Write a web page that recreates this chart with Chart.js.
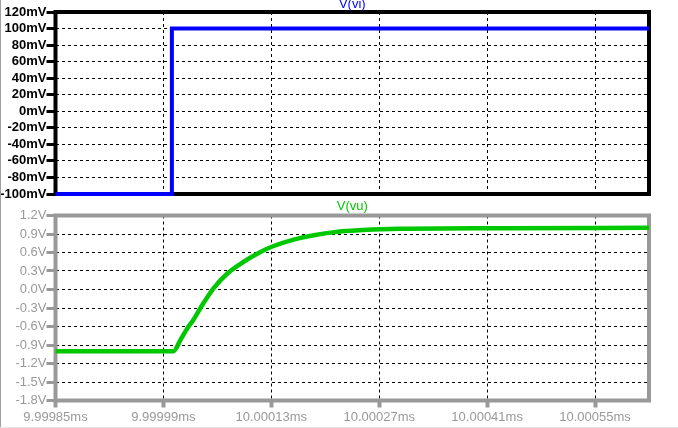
<!DOCTYPE html>
<html><head><meta charset="utf-8">
<script src="https://cdn.jsdelivr.net/npm/chart.js@4"></script>
<style>
html,body{margin:0;padding:0;background:#fff;}
body{width:678px;height:428px;position:relative;overflow:hidden;}
canvas{position:absolute;left:0;}
#c1{top:0;}
#c2{top:200px;}
#edgeL{position:absolute;left:0;top:0;width:1px;height:427px;background:#a0a0a0;}
#edgeB{position:absolute;left:0;top:427px;width:678px;height:1px;background:#e6e6e6;}
</style></head>
<body>
<canvas id="c1" width="678" height="210"></canvas>
<canvas id="c2" width="678" height="228"></canvas>
<div id="edgeL"></div><div id="edgeB"></div>
<script>
// Time axis: nanoseconds relative to 10 ms
const xMin = -150, xMax = 620;
const xTickValues = [-150, -10, 130, 270, 410, 550];
const xTickLabels = ['9.99985ms','9.99999ms','10.00013ms','10.00027ms','10.00041ms','10.00055ms'];

// V(vi) in mV
const viTickValues = [-100,-80,-60,-40,-20,0,20,40,60,80,100,120];
const viTickLabels = ['-100mV','-80mV','-60mV','-40mV','-20mV','0mV','20mV','40mV','60mV','80mV','100mV','120mV'];
const viTime = [-150, 1, 1, 620];
const viValues = [-100, -100, 100, 100];

// V(vu) in V
const vuTickValues = [-1.8,-1.5,-1.2,-0.9,-0.6,-0.3,0,0.3,0.6,0.9,1.2];
const vuTickLabels = ['-1.8V','-1.5V','-1.2V','-0.9V','-0.6V','-0.3V','0.0V','0.3V','0.6V','0.9V','1.2V'];
const vuTime = [-150, 3, 12, 21, 29, 42, 55, 73, 94, 116, 133, 159, 185, 219, 254, 297, 427, 620];
const vuValues = [-1.0, -1.0, -0.82, -0.63, -0.49, -0.22, 0.02, 0.26, 0.45, 0.61, 0.705, 0.81, 0.88, 0.94, 0.97, 0.985, 0.995, 1.0];

const FONT = '"Liberation Sans", Arial, sans-serif';

const framePlugin = {
  id: 'frame',
  beforeDatasetsDraw(chart, args, opts) {
    const {ctx, chartArea: a} = chart;
    ctx.save();
    ctx.strokeStyle = opts.color;
    ctx.lineWidth = opts.width;
    ctx.strokeRect(a.left, a.top, a.right - a.left, a.bottom - a.top);
    ctx.restore();
  }
};
const titlePlugin = {
  id: 'plotTitle',
  afterDraw(chart, args, opts) {
    const {ctx, chartArea: a} = chart;
    ctx.save();
    ctx.font = '13px ' + FONT;
    ctx.fillStyle = opts.color;
    ctx.textAlign = 'center';
    ctx.textBaseline = 'alphabetic';
    ctx.fillText(opts.text, (a.left + a.right) / 2, opts.y);
    ctx.restore();
  }
};

function pts(xs, ys) { return xs.map((x, i) => ({x: x, y: ys[i]})); }

function makeChart(id, cfg) {
  return new Chart(document.getElementById(id), {
    type: 'line',
    data: {datasets: [{
      data: pts(cfg.xs, cfg.ys),
      borderColor: cfg.lineColor,
      borderWidth: cfg.lineWidth,
      pointRadius: 0,
      fill: false,
      clip: false,
      tension: 0,
      cubicInterpolationMode: cfg.monotone ? 'monotone' : 'default'
    }]},
    options: {
      responsive: false,
      animation: false,
      events: [],
      layout: {padding: cfg.padding},
      plugins: {
        legend: {display: false},
        tooltip: {enabled: false},
        frame: {color: cfg.frameColor, width: 4},
        plotTitle: {text: cfg.title, color: cfg.lineColor, y: cfg.titleY}
      },
      scales: {
        x: {
          type: 'linear', min: xMin, max: xMax,
          afterBuildTicks: s => { s.ticks = xTickValues.map(v => ({value: v})); },
          afterFit: s => { s.height = cfg.xHeight; },
          ticks: {
            display: cfg.showX, autoSkip: false, maxRotation: 0, padding: 2,
            color: cfg.labelColor, font: {family: FONT, size: 13},
            callback: (v, i) => xTickLabels[i]
          },
          grid: {color: '#000', lineWidth: 1, drawTicks: cfg.showX, tickLength: 7, tickWidth: 4,
                 tickColor: cfg.frameColor, tickBorderDash: []},
          border: {display: false, dash: [3, 3]}
        },
        y: {
          type: 'linear', min: cfg.yTicks[0], max: cfg.yTicks[cfg.yTicks.length - 1],
          afterBuildTicks: s => { s.ticks = cfg.yTicks.map(v => ({value: v})); },
          afterFit: s => { s.width = 55.5; },
          ticks: {
            autoSkip: false, padding: 0, color: cfg.labelColor,
            font: {family: FONT, size: 13, weight: cfg.labelWeight},
            callback: (v, i) => cfg.yLabels[i]
          },
          grid: {color: '#000', lineWidth: 1, drawTicks: true, tickLength: 9, tickWidth: 3,
                 tickColor: cfg.frameColor, tickBorderDash: []},
          border: {display: false, dash: [3, 3]}
        }
      }
    },
    plugins: [framePlugin, titlePlugin]
  });
}

makeChart('c1', {
  xs: viTime, ys: viValues, lineColor: '#0000ff', lineWidth: 4, monotone: false,
  padding: {left: 0, right: 29, top: 12, bottom: 16},
  frameColor: '#000000', labelColor: '#000000', labelWeight: 'bold',
  title: 'V(vi)', titleY: 7.5, showX: false, xHeight: 0,
  yTicks: viTickValues, yLabels: viTickLabels
});
makeChart('c2', {
  xs: vuTime, ys: vuValues, lineColor: '#00c800', lineWidth: 4.5, monotone: true,
  padding: {left: 0, right: 29, top: 15.5, bottom: 0},
  frameColor: '#999999', labelColor: '#999999', labelWeight: 'normal',
  title: 'V(vu)', titleY: 10, showX: true, xHeight: 27.5,
  yTicks: vuTickValues, yLabels: vuTickLabels
});
</script>
</body></html>
